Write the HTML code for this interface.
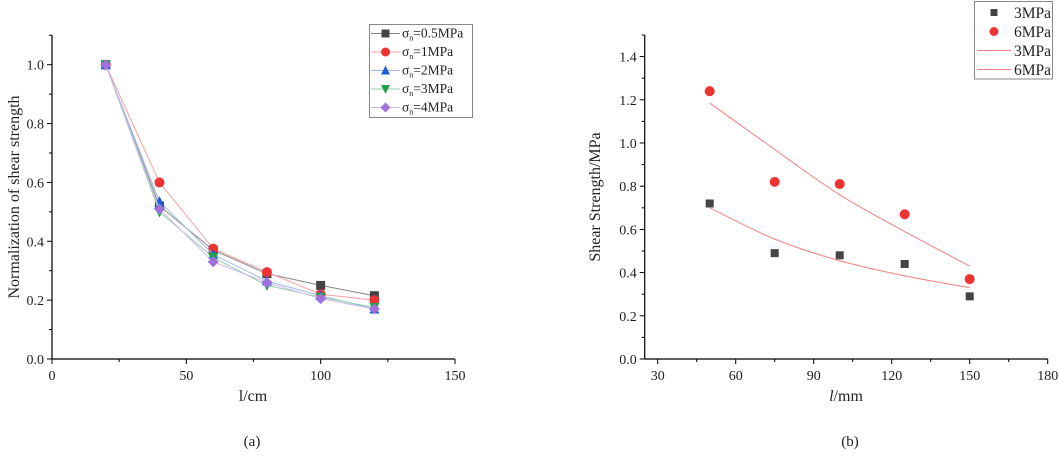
<!DOCTYPE html>
<html><head><meta charset="utf-8"><style>
body{margin:0;background:#fff}
svg,svg text{font-family:"Liberation Serif","Noto Serif CJK SC",serif}
</style></head><body>
<svg id="s" width="1059" height="457" viewBox="0 0 1059 457" font-family="Liberation Serif, serif"></svg>
<script>
const NS="http://www.w3.org/2000/svg";
const svg=document.getElementById('s');
// Chart (a) data
const xA=[20,40,60,80,100,120];
const s05=[1,0.52,0.37,0.29,0.25,0.215];
const s1=[1,0.60,0.375,0.295,0.22,0.20];
const s2=[1,0.535,0.355,0.265,0.215,0.17];
const s3=[1,0.50,0.345,0.25,0.21,0.175];
const s4=[1,0.51,0.33,0.26,0.205,0.17];
const xTicksA=[0,50,100,150];
const yTicksA=[0,0.2,0.4,0.6,0.8,1.0];
// Chart (b) data
const xB=[50,75,100,125,150];
const pts3=[0.72,0.49,0.48,0.44,0.29];
const pts6=[1.24,0.82,0.81,0.67,0.37];
const fit3=[0.70,0.555,0.455,0.385,0.33];
const fit6=[1.185,0.97,0.76,0.59,0.43];
const xTicksB=[30,60,90,120,150,180];
const yTicksB=[0,0.2,0.4,0.6,0.8,1.0,1.2,1.4];

function el(tag,attrs,parent){const e=document.createElementNS(NS,tag);for(const k in attrs)e.setAttribute(k,attrs[k]);(parent||svg).appendChild(e);return e;}
function txt(s,x,y,o,parent){const t=el('text',Object.assign({x:x,y:y,'font-size':14,fill:'#222','font-family':'Liberation Serif, serif'},o||{}),parent);t.textContent=s;return t;}

const ax=v=>52+v*(455-52)/150, ay=v=>359-v*294.3;
const bx=v=>657.7+(v-30)*2.6, by=v=>359-v*216;

function axes(x0,x1,yTop,sx,sy,xt,yt,xminor,yminor,name){
  const g=el('g',{});
  
  el('line',{x1:x0,y1:359,x2:x1,y2:359,stroke:'#000','stroke-width':1.2},g);
  el('line',{x1:x0,y1:359,x2:x0,y2:yTop,stroke:'#000','stroke-width':1.2},g);
  xt.forEach(v=>{el('line',{x1:sx(v),y1:359,x2:sx(v),y2:364,stroke:'#000'},g);
    const t=txt(String(v),sx(v),380,{'text-anchor':'middle'},g);});
  xminor.forEach(v=>el('line',{x1:sx(v),y1:359,x2:sx(v),y2:362,stroke:'#000'},g));
  yt.forEach(v=>{el('line',{x1:x0,y1:sy(v),x2:x0-5,y2:sy(v),stroke:'#000'},g);
    const t=txt(v.toFixed(1),x0-8,sy(v)+5,{'text-anchor':'end'},g);});
  yminor.forEach(v=>el('line',{x1:x0,y1:sy(v),x2:x0-3,y2:sy(v),stroke:'#000'},g));
}
axes(52,455,35,ax,ay,xTicksA,yTicksA,[25,75,125],[0.1,0.3,0.5,0.7,0.9,1.1],'chart-a');
axes(644.7,1047.7,35,bx,by,xTicksB,yTicksB,[45,75,105,135,165],[0.1,0.3,0.5,0.7,0.9,1.1,1.3,1.5],'chart-b');

let t;
t=txt('l/cm',253,401,{'text-anchor':'middle','font-size':16});
t=txt('Normalization of shear strength',0,0,{'text-anchor':'middle','font-size':16,transform:'translate(19,197) rotate(-90)'});
t=txt('',846,401,{'text-anchor':'middle','font-size':16});t.innerHTML='<tspan font-style="italic">l</tspan>/mm';
t=txt('Shear Strength/MPa',0,0,{'text-anchor':'middle','font-size':16,transform:'translate(600,197) rotate(-90)'});
t=txt('(a)',252,446,{'text-anchor':'middle','font-size':15});
t=txt('(b)',850,446,{'text-anchor':'middle','font-size':15});

function marker(type,x,y,c,parent,r){
  r=r||4.5;let m;
  if(type==='sq')m=el('rect',{x:x-r,y:y-r,width:2*r,height:2*r,fill:c},parent);
  else if(type==='ci')m=el('circle',{cx:x,cy:y,r:r+0.5,fill:c},parent);
  else if(type==='up')m=el('polygon',{points:`${x},${y-r-1} ${x-r-0.5},${y+r} ${x+r+0.5},${y+r}`,fill:c},parent);
  else if(type==='dn')m=el('polygon',{points:`${x},${y+r+1} ${x-r-0.5},${y-r} ${x+r+0.5},${y-r}`,fill:c},parent);
  else m=el('polygon',{points:`${x},${y-r-1} ${x+r+1},${y} ${x},${y+r+1} ${x-r-1},${y}`,fill:c},parent);
  return m;
}
const seriesA=[
 {d:s05,c:'#444',l:'#888',m:'sq',lab:'0.5MPa'},
 {d:s1,c:'#ee3333',l:'#f5a0a0',m:'ci',lab:'1MPa'},
 {d:s2,c:'#1f5fd6',l:'#9dbbe8',m:'up',lab:'2MPa'},
 {d:s3,c:'#22a050',l:'#90d0a8',m:'dn',lab:'3MPa'},
 {d:s4,c:'#a070dd',l:'#d0b8ee',m:'di',lab:'4MPa'}];
seriesA.forEach((s,i)=>{
  const g=el('g',{});
  
  el('polyline',{points:xA.map((x,j)=>ax(x)+','+ay(s.d[j])).join(' '),fill:'none',stroke:s.l,'stroke-width':1},g);
  xA.forEach((x,j)=>{const m=marker(s.m,ax(x),ay(s.d[j]),s.c,g);});
});
const lg=el('g',{});
el('rect',{x:369.5,y:24.5,width:103,height:93,fill:'#fff',stroke:'#888'},lg);
seriesA.forEach((s,i)=>{const y=33.5+i*18.5;
  el('line',{x1:371,y1:y,x2:400,y2:y,stroke:s.l},lg);marker(s.m,385.5,y,s.c,lg,4);
  const tt=txt('',402,y+4,{'font-size':13.5},lg);tt.innerHTML='σ<tspan font-size="8" dy="3">n</tspan><tspan dy="-3">='+s.lab+'</tspan>';
  });

function smooth(xs,ys){const p=xs.map((x,i)=>[bx(x),by(ys[i])]);let d='M'+p[0][0]+','+p[0][1];
  for(let i=0;i<p.length-1;i++){const p0=p[Math.max(0,i-1)],p1=p[i],p2=p[i+1],p3=p[Math.min(p.length-1,i+2)];
    d+=` C${p1[0]+(p2[0]-p0[0])/6},${p1[1]+(p2[1]-p0[1])/6} ${p2[0]-(p3[0]-p1[0])/6},${p2[1]-(p3[1]-p1[1])/6} ${p2[0]},${p2[1]}`;}return d;}
let f=el('path',{d:smooth(xB,fit3),fill:'none',stroke:'#f58080','stroke-width':1});
f=el('path',{d:smooth(xB,fit6),fill:'none',stroke:'#f58080','stroke-width':1});
const g3=el('g',{});
xB.forEach((x,j)=>{const m=marker('sq',bx(x),by(pts3[j]),'#444',g3,4);});
const g6=el('g',{});
xB.forEach((x,j)=>{const m=marker('ci',bx(x),by(pts6[j]),'#ee3333',g6,4.5);});
const lb=el('g',{});
el('rect',{x:974.5,y:1.5,width:78,height:77.5,fill:'#fff',stroke:'#888'},lb);
[['sq','3MPa'],['ci','6MPa'],['ln','3MPa'],['ln','6MPa']].forEach((e,i)=>{const y=12.5+i*19;
  if(e[0]==='ln')el('line',{x1:977,y1:y,x2:1011,y2:y,stroke:'#f58080'},lb);
  else marker(e[0],994,y,e[0]==='sq'?'#444':'#ee3333',lb,e[0]==='sq'?3.5:4);
  const tt=txt(e[1],1014,y+5.5,{'font-size':15.5},lb);});
</script>
</body></html>
